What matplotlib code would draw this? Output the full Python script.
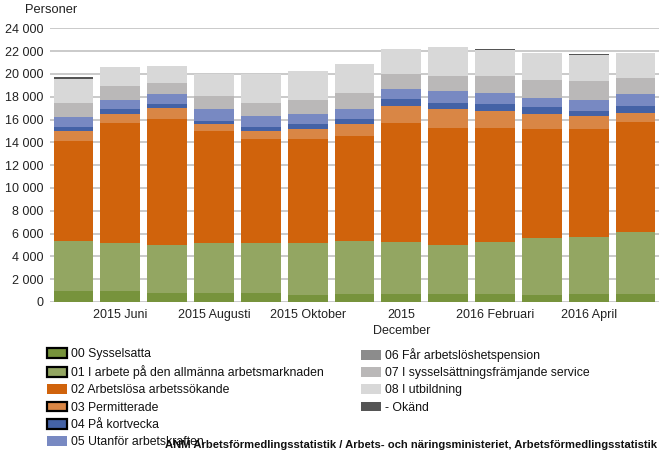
import matplotlib
matplotlib.use('Agg')
import matplotlib.pyplot as plt
import numpy as np
from matplotlib.patches import Patch
from matplotlib.ticker import FuncFormatter, MultipleLocator

plt.rcParams['font.family'] = ['Liberation Sans', 'DejaVu Sans']

# ── Data (persons per month, May 2015 – May 2016) ─────────────────────────────
months = ['', '2015 Juni', '', '2015 Augusti', '', '2015 Oktober', '',
          '2015\nDecember', '', '2016 Februari', '', '2016 April', '']

s00 = [960, 960, 790, 790, 790, 610, 700, 700, 700, 700, 610, 700, 700]
s01 = [4410, 4210, 4210, 4380, 4380, 4560, 4650, 4560, 4300, 4560, 5000, 5000, 5430]
s02 = [8740, 10520, 11040, 9820, 9120, 9120, 9200, 10430, 10250, 9990, 9550, 9460, 9650]
s03 = [880, 790, 960, 610, 700, 870, 1050, 1490, 1660, 1490, 1320, 1140, 780]
s04 = [350, 430, 340, 260, 350, 440, 440, 610, 530, 610, 610, 440, 620]
s05 = [870, 790, 890, 1050, 960, 880, 870, 880, 1050, 970, 790, 960, 1050]
s06 = [0, 0, 0, 0, 0, 0, 0, 0, 0, 0, 0, 0, 0]
s07 = [1230, 1230, 960, 1140, 1140, 1220, 1410, 1310, 1320, 1490, 1580, 1670, 1400]
s08 = [2100, 1670, 1490, 1930, 2540, 2550, 2540, 2190, 2540, 2280, 2360, 2280, 2190]
s_okand = [150, 0, 0, 0, 0, 0, 0, 0, 0, 80, 0, 90, 0]

series = [
    ('00 Sysselsatta', s00, '#77933c', True),
    ('01 I arbete på den allmänna arbetsmarknaden', s01, '#93a662', True),
    ('02 Arbetslösa arbetssökande', s02, '#d0630c', False),
    ('03 Permitterade', s03, '#d98645', True),
    ('04 På kortvecka', s04, '#4462a6', True),
    ('05 Utanför arbetskraften', s05, '#7889c2', False),
    ('06 Får arbetslöshetspension', s06, '#8c8c8c', False),
    ('07 I sysselsättningsfrämjande service', s07, '#bab8b8', False),
    ('08 I utbildning', s08, '#d8d8d8', False),
    ('- Okänd', s_okand, '#555555', False),
]

# ── Plot ──────────────────────────────────────────────────────────────────────
fig = plt.figure(figsize=(6.59, 4.54), dpi=100)
ax = fig.add_axes([50 / 659, 1 - 302 / 454, 609 / 659, (302 - 28.3) / 454])

x = np.arange(len(months))
bottom = np.zeros(len(months))
handles = []
for name, vals, col, edged in series:
    vals = np.array(vals, dtype=float)
    ax.bar(x, vals, bottom=bottom, width=0.85, color=col, zorder=3)
    bottom += vals
    handles.append(Patch(facecolor=col, edgecolor='black' if edged else col,
                         linewidth=1.6 if edged else 0, label=name))

ax.set_xlim(-0.5, len(months) - 0.5)
ax.set_ylim(0, 24000)
ax.yaxis.set_major_locator(MultipleLocator(2000))
ax.yaxis.set_major_formatter(FuncFormatter(lambda v, p: f'{int(v):,}'.replace(',', ' ')))
ax.set_xticks(x)
ax.set_xticklabels(months, fontsize=9, color='#222222', linespacing=1.45)
ax.tick_params(axis='x', length=0, pad=5)
ax.tick_params(axis='y', length=0, pad=5, labelsize=9, labelcolor='#222222')
ax.grid(axis='y', color='#c6c6c6', linewidth=1.3, zorder=0)
for sp in ax.spines.values():
    sp.set_visible(False)

fig.text(25 / 659, 1 - 10 / 454, 'Personer', fontsize=9.3, va='center', color='#222222')

leg_kw = dict(frameon=False, fontsize=8.8, handlelength=1.6, handleheight=0.85,
              handletextpad=0.4, labelspacing=0.42, borderpad=0, borderaxespad=0,
              labelcolor='#111111')
fig.legend(handles=handles[:6], loc='upper left',
           bbox_to_anchor=(47 / 659, 1 - 348 / 454), **leg_kw)
fig.legend(handles=handles[6:], loc='upper left',
           bbox_to_anchor=(361 / 659, 1 - 348 / 454), **leg_kw)

fig.text(657 / 659, 1 - 445 / 454,
         'ANM Arbetsförmedlingsstatistik / Arbets- och näringsministeriet, Arbetsförmedlingsstatistik',
         fontsize=8.1, fontweight='bold', ha='right', va='center', color='#111111')

fig.savefig('out.png', dpi=100)
